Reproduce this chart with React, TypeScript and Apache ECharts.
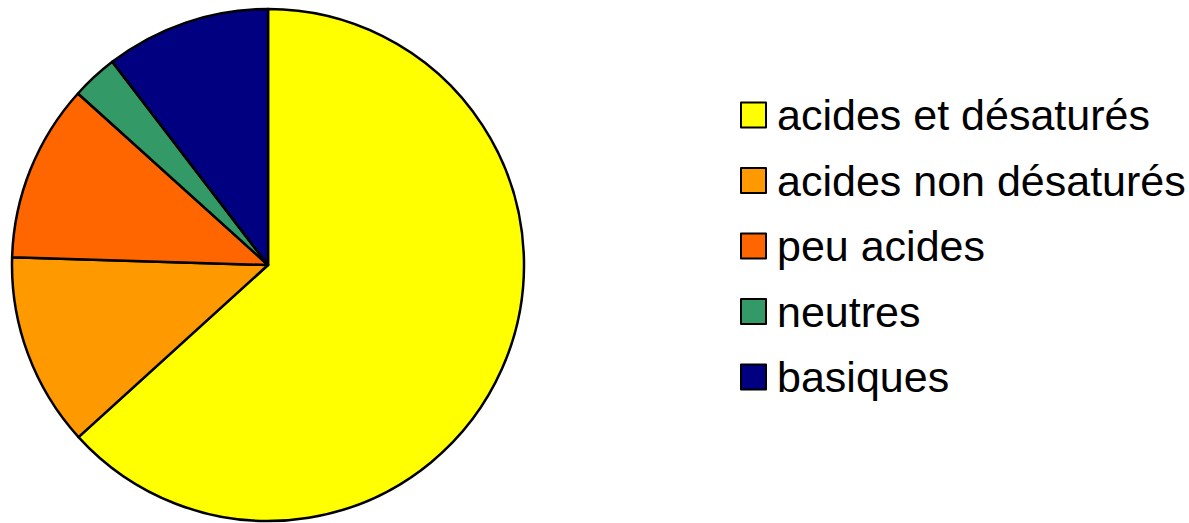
import React, { useEffect, useRef } from "react";
import * as echarts from "echarts";

const categories = [
  "acides et désaturés",
  "acides non désaturés",
  "peu acides",
  "neutres",
  "basiques",
];
const values = [63.2, 12.2, 11.2, 2.9, 10.4];
const colors = ["#FFFF00", "#FF9900", "#FF6600", "#339966", "#000080"];

export default function App() {
  const ref = useRef<HTMLDivElement>(null);
  useEffect(() => {
    if (!ref.current) return;
    const chart = echarts.init(ref.current, undefined, { renderer: "svg" });
    chart.setOption({
      animation: false,
      backgroundColor: "#ffffff",
      legend: {
        orient: "vertical",
        left: 735,
        top: 85,
        icon: "rect",
        itemWidth: 25,
        itemHeight: 25,
        itemGap: 15.5,
        itemStyle: { borderColor: "#000", borderWidth: 2 },
        textStyle: {
          fontFamily: "'Liberation Sans', Arial, sans-serif",
          fontSize: 43,
          lineHeight: 50,
          color: "#000",
          padding: [0, 0, 0, 6],
        },
        data: categories,
      },
      series: [
        {
          type: "pie",
          center: [268, 265],
          radius: [0, 256],
          startAngle: 90,
          clockwise: true,
          label: { show: false },
          labelLine: { show: false },
          emphasis: { disabled: true },
          itemStyle: { borderColor: "#000", borderWidth: 2.5 },
          data: categories.map((name, i) => ({
            name,
            value: values[i],
            itemStyle: { color: colors[i] },
          })),
        },
      ],
    });
    return () => chart.dispose();
  }, []);
  return (
    <div
      ref={ref}
      style={{ position: "fixed", left: 0, top: 0, width: 1189, height: 523 }}
    />
  );
}
